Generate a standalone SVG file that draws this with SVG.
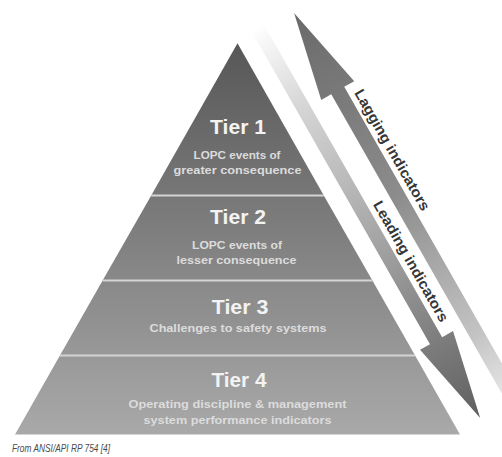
<svg xmlns="http://www.w3.org/2000/svg" width="502" height="457" viewBox="0 0 502 457">
  <style>
    text { font-family: "Liberation Sans", Arial, sans-serif; }
    .title { font-size: 20px; font-weight: bold; fill: #f3f3f3; text-anchor: middle; }
    .sub { font-size: 11.5px; font-weight: bold; fill: #dcdcdc; text-anchor: middle; }
    .divider { stroke: #d4d4d4; stroke-width: 1.8; }
    .arrow-label { font-size: 14.5px; font-weight: bold; fill: #363636; }
    .source { font-size: 11.5px; font-style: italic; fill: #4a4a4a; }
  </style>
  <defs>
    <!-- one vertical shade shared by all four tiers -->
    <linearGradient id="pyramidShade" gradientUnits="userSpaceOnUse" x1="0" y1="43" x2="0" y2="435">
      <stop offset="0" stop-color="#575757"/>
      <stop offset="1" stop-color="#a9a9a9"/>
    </linearGradient>
    <!-- shades along the rotated indicator band (x runs down the slope) -->
    <linearGradient id="upShade" gradientUnits="userSpaceOnUse" x1="157" y1="0" x2="620" y2="0">
      <stop offset="0" stop-color="#6a6a6a"/>
      <stop offset="0.45" stop-color="#8c8c8c"/>
      <stop offset="0.8" stop-color="#c4c4c4"/>
      <stop offset="1" stop-color="#f4f4f4"/>
    </linearGradient>
    <linearGradient id="downShade" gradientUnits="userSpaceOnUse" x1="150" y1="0" x2="601" y2="0">
      <stop offset="0" stop-color="#ffffff"/>
      <stop offset="0.2" stop-color="#d6d6d6"/>
      <stop offset="0.55" stop-color="#a4a4a4"/>
      <stop offset="1" stop-color="#5f5f5f"/>
    </linearGradient>
  </defs>

  <rect width="502" height="457" fill="#ffffff"/>

  <g id="tier1">
    <polygon points="237.5,43.3 323.8,195.5 151.2,195.5" fill="url(#pyramidShade)"/>
    <text class="title" x="238" y="134" textLength="56" lengthAdjust="spacingAndGlyphs">Tier 1</text>
    <text class="sub" x="237" y="158.5" textLength="87" lengthAdjust="spacingAndGlyphs">LOPC events of</text>
    <text class="sub" x="237.5" y="174" textLength="128" lengthAdjust="spacingAndGlyphs">greater consequence</text>
  </g>

  <g id="tier2">
    <polygon points="151.2,195.5 323.8,195.5 372.4,280.5 102.6,280.5" fill="url(#pyramidShade)"/>
    <text class="title" x="238" y="224" textLength="56" lengthAdjust="spacingAndGlyphs">Tier 2</text>
    <text class="sub" x="237" y="248.5" textLength="90" lengthAdjust="spacingAndGlyphs">LOPC events of</text>
    <text class="sub" x="236.5" y="263.5" textLength="120" lengthAdjust="spacingAndGlyphs">lesser consequence</text>
  </g>

  <g id="tier3">
    <polygon points="102.6,280.5 372.4,280.5 415.1,355.5 59.9,355.5" fill="url(#pyramidShade)"/>
    <text class="title" x="240" y="314" textLength="56.5" lengthAdjust="spacingAndGlyphs">Tier 3</text>
    <text class="sub" x="238" y="331.5" textLength="177" lengthAdjust="spacingAndGlyphs">Challenges to safety systems</text>
  </g>

  <g id="tier4">
    <polygon points="59.9,355.5 415.1,355.5 460,434.5 15,434.5" fill="url(#pyramidShade)"/>
    <text class="title" x="239" y="386.5" textLength="55" lengthAdjust="spacingAndGlyphs">Tier 4</text>
    <text class="sub" x="237.5" y="407.5" textLength="218" lengthAdjust="spacingAndGlyphs">Operating discipline &amp; management</text>
    <text class="sub" x="237.5" y="423.5" textLength="188" lengthAdjust="spacingAndGlyphs">system performance indicators</text>
  </g>

  <g id="dividers">
    <line class="divider" x1="151.2" y1="195.5" x2="323.8" y2="195.5"/>
    <line class="divider" x1="102.6" y1="280.5" x2="372.4" y2="280.5"/>
    <line class="divider" x1="59.9" y1="355.5" x2="415.1" y2="355.5"/>
  </g>

  <!-- indicator arrows, laid out along the pyramid's right slope -->
  <g id="connectors" transform="rotate(60.3)">
    <g id="lagging">
      <polygon points="157,-249 246,-267.5 246,-256 640,-256 640,-241 246,-241 246,-229.5" fill="url(#upShade)"/>
      <text class="arrow-label" x="256" y="-261.5" textLength="137" lengthAdjust="spacingAndGlyphs">Lagging indicators</text>
    </g>
    <g id="leading">
      <polygon points="150,-217 512,-217 512,-229.5 601,-210 512,-191.5 512,-203 150,-203" fill="url(#downShade)"/>
      <text class="arrow-label" x="362" y="-222.5" textLength="137" lengthAdjust="spacingAndGlyphs">Leading indicators</text>
    </g>
  </g>

  <text class="source" x="12" y="451.5" textLength="98" lengthAdjust="spacingAndGlyphs">From ANSI/API RP 754 [4]</text>
</svg>
